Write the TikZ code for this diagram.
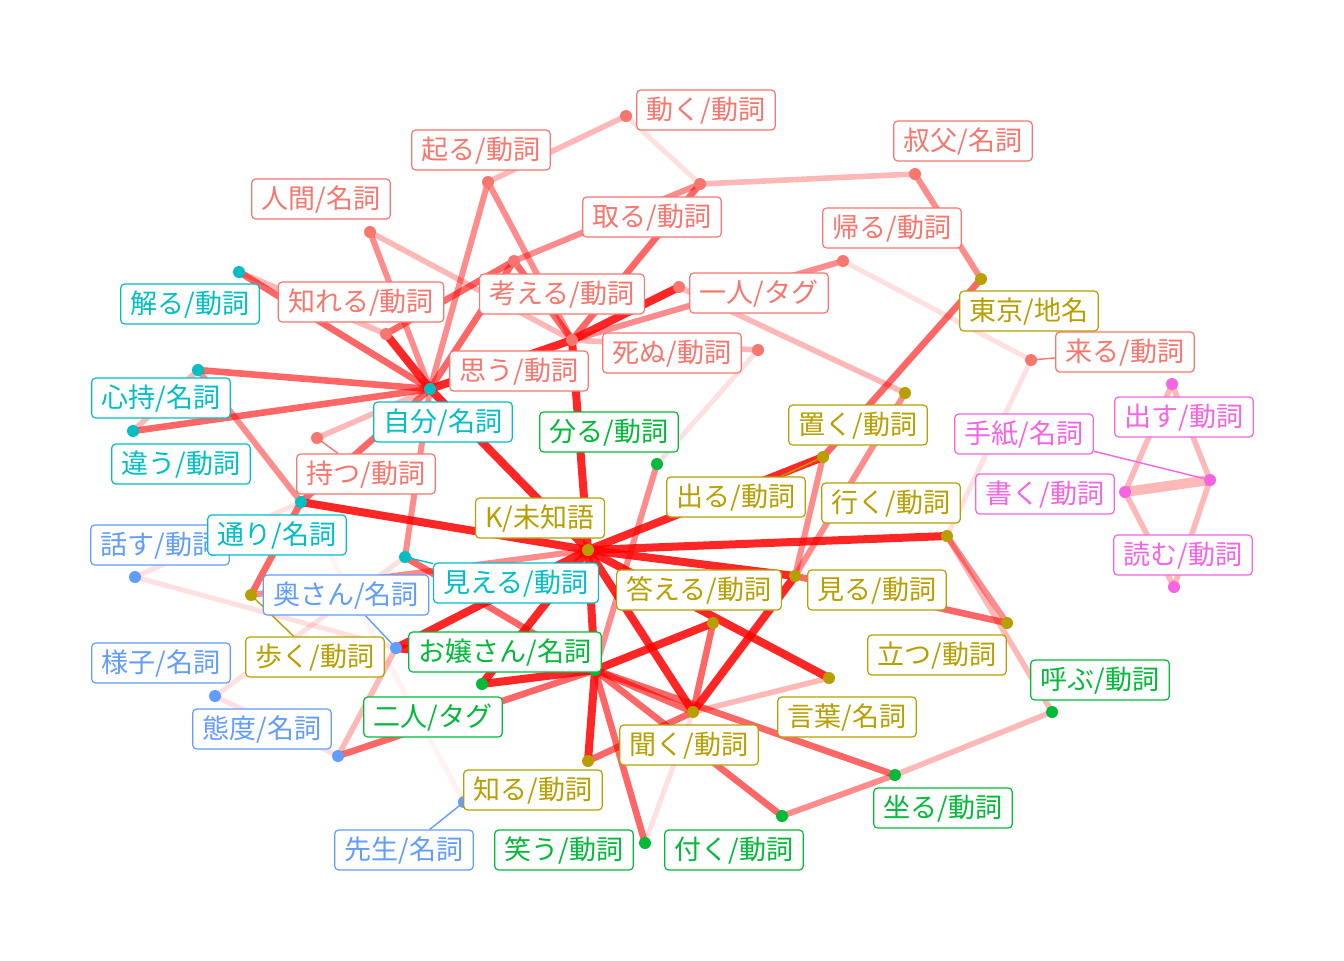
\documentclass[tikz,border=0pt]{standalone}
\usepackage{fontspec}
\newfontfamily\jpfont{Noto Sans CJK JP}
\usepackage{xcolor}
\definecolor{grpSalmon}{HTML}{F8766D}
\definecolor{grpOlive}{HTML}{B79F00}
\definecolor{grpGreen}{HTML}{00BA38}
\definecolor{grpCyan}{HTML}{00BFC4}
\definecolor{grpBlue}{HTML}{619CFF}
\definecolor{grpPink}{HTML}{F564E3}
\pgfdeclarelayer{edgelayer}
\pgfdeclarelayer{dotlayer}
\pgfsetlayers{edgelayer,dotlayer,main}

\begin{document}
\begin{tikzpicture}[
        x=0.5pt, y=-0.5pt,
        lab/.style={draw=#1, text=#1, fill=white, rounded corners=2pt,
                    line width=0.6pt, font=\jpfont\fontsize{13.5}{13.5}\selectfont,
                    inner xsep=5pt, inner ysep=0pt, minimum height=20pt,
                    text height=11.6pt, text depth=1.9pt},
        seg/.style={draw=#1, line width=0.7pt},
        e1/.style={draw=red, draw opacity=.12, line width=2.5pt},
        e2/.style={draw=red, draw opacity=.28, line width=2.8pt},
        e3/.style={draw=red, draw opacity=.45, line width=3pt},
        e4/.style={draw=red, draw opacity=.6, line width=3.3pt},
        e5/.style={draw=red, draw opacity=.85, line width=4pt},
    ]
        \useasboundingbox (0,0) rectangle (1344,960);

        % ===== 点の位置 =====
        \coordinate (ugoku) at (626,116);
        \coordinate (okoru) at (488,182);
        \coordinate (ningen) at (370,232);
        \coordinate (toru) at (700,184);
        \coordinate (oji) at (915,174);
        \coordinate (kaeru) at (843,261);
        \coordinate (shireru) at (386,334);
        \coordinate (kangaeru) at (514,261);
        \coordinate (omou) at (572,340);
        \coordinate (hitori) at (679,287);
        \coordinate (shinu) at (758,350);
        \coordinate (motsu) at (317,438);
        \coordinate (kuru) at (1031,360);
        \coordinate (wakaru) at (239,272);
        \coordinate (jibun) at (430,389);
        \coordinate (kokoro) at (198,370);
        \coordinate (chigau) at (133,431);
        \coordinate (toori) at (301,502);
        \coordinate (mieru) at (405,557);
        \coordinate (hanasu) at (135,577);
        \coordinate (okusan) at (396,648);
        \coordinate (yousu) at (215,696);
        \coordinate (taido) at (338,756);
        \coordinate (sensei) at (464,802);
        \coordinate (michi) at (588,550);
        \coordinate (oku) at (905,393);
        \coordinate (deru) at (823,457);
        \coordinate (iku) at (947,536);
        \coordinate (miru) at (795,576);
        \coordinate (kotaeru) at (713,623);
        \coordinate (tatsu) at (1007,623);
        \coordinate (kotoba) at (829,678);
        \coordinate (kiku) at (693,712);
        \coordinate (shiru) at (588,761);
        \coordinate (aruku) at (251,595);
        \coordinate (tokyo) at (981,279);
        \coordinate (bunkaru) at (657,464);
        \coordinate (ojou) at (595,670);
        \coordinate (futari) at (482,684);
        \coordinate (yobu) at (1052,712);
        \coordinate (suwaru) at (895,775);
        \coordinate (warau) at (645,843);
        \coordinate (tsuku) at (782,816);
        \coordinate (dasu) at (1172,384);
        \coordinate (kaku) at (1125,492);
        \coordinate (tegami) at (1210,480);
        \coordinate (yomu) at (1174,587);

        % ===== ラベル =====
        \node[lab=grpSalmon] (ugokuL) at (706,110) {動く/動詞};
        \node[lab=grpSalmon] (okoruL) at (481,150) {起る/動詞};
        \node[lab=grpSalmon] (ningenL) at (321,199) {人間/名詞};
        \node[lab=grpSalmon] (toruL) at (652,217) {取る/動詞};
        \node[lab=grpSalmon] (ojiL) at (963,141) {叔父/名詞};
        \node[lab=grpSalmon] (kaeruL) at (892,228) {帰る/動詞};
        \node[lab=grpSalmon] (shireruL) at (361,302) {知れる/動詞};
        \node[lab=grpSalmon] (kangaeruL) at (562,294) {考える/動詞};
        \node[lab=grpSalmon] (omouL) at (519,371) {思う/動詞};
        \node[lab=grpSalmon] (hitoriL) at (759,293) {一人/タグ};
        \node[lab=grpSalmon] (shinuL) at (672,353) {死ぬ/動詞};
        \node[lab=grpSalmon] (motsuL) at (366,474) {持つ/動詞};
        \node[lab=grpSalmon] (kuruL) at (1125,352) {来る/動詞};
        \node[lab=grpCyan] (wakaruL) at (190,304) {解る/動詞};
        \node[lab=grpCyan] (jibunL) at (443,422) {自分/名詞};
        \node[lab=grpCyan] (kokoroL) at (161,398) {心持/名詞};
        \node[lab=grpCyan] (chigauL) at (181,464) {違う/動詞};
        \node[lab=grpBlue] (hanasuL) at (160,545) {話す/動詞};
        \node[lab=grpCyan] (tooriL) at (277,535) {通り/名詞};
        \node[lab=grpCyan] (mieruL) at (516,583) {見える/動詞};
        \node[lab=grpBlue] (okusanL) at (346,595) {奥さん/名詞};
        \node[lab=grpBlue] (yousuL) at (161,663) {様子/名詞};
        \node[lab=grpBlue] (taidoL) at (262,729) {態度/名詞};
        \node[lab=grpBlue] (senseiL) at (404,850) {先生/名詞};
        \node[lab=grpOlive] (michiL) at (540,518) {K/未知語};
        \node[lab=grpOlive] (okuL) at (858,425) {置く/動詞};
        \node[lab=grpOlive] (deruL) at (736,497) {出る/動詞};
        \node[lab=grpOlive] (ikuL) at (891,503) {行く/動詞};
        \node[lab=grpOlive] (miruL) at (877,590) {見る/動詞};
        \node[lab=grpOlive] (kotaeruL) at (699,590) {答える/動詞};
        \node[lab=grpOlive] (tatsuL) at (937,655) {立つ/動詞};
        \node[lab=grpOlive] (kotobaL) at (847,717) {言葉/名詞};
        \node[lab=grpOlive] (kikuL) at (689,745) {聞く/動詞};
        \node[lab=grpOlive] (shiruL) at (533,790) {知る/動詞};
        \node[lab=grpOlive] (arukuL) at (315,657) {歩く/動詞};
        \node[lab=grpOlive] (tokyoL) at (1029,311) {東京/地名};
        \node[lab=grpGreen] (bunkaruL) at (609,432) {分る/動詞};
        \node[lab=grpGreen] (ojouL) at (505,652) {お嬢さん/名詞};
        \node[lab=grpGreen] (futariL) at (433,717) {二人/タグ};
        \node[lab=grpGreen] (yobuL) at (1100,680) {呼ぶ/動詞};
        \node[lab=grpGreen] (suwaruL) at (943,808) {坐る/動詞};
        \node[lab=grpGreen] (warauL) at (564,850) {笑う/動詞};
        \node[lab=grpGreen] (tsukuL) at (734,850) {付く/動詞};
        \node[lab=grpPink] (dasuL) at (1184,417) {出す/動詞};
        \node[lab=grpPink] (kakuL) at (1045,494) {書く/動詞};
        \node[lab=grpPink] (tegamiL) at (1024,434) {手紙/名詞};
        \node[lab=grpPink] (yomuL) at (1183,555) {読む/動詞};

        % ===== 共起の線 =====
        \begin{pgfonlayer}{edgelayer}
        \fill[white] (0,0) rectangle (1344,960);
        \draw[e3] (jibun) -- (okoru);
        \draw[e3] (jibun) -- (ningen);
        \draw[e5] (jibun) -- (shireru);
        \draw[e4] (jibun) -- (wakaru);
        \draw[e4] (jibun) -- (kokoro);
        \draw[e4] (jibun) -- (chigau);
        \draw[e4] (jibun) -- (toori);
        \draw[e5] (jibun) -- (michi);
        \draw[e3] (jibun) -- (mieru);
        \draw[e2] (jibun) -- (motsu);
        \draw[e4] (jibun) -- (kangaeru);
        \draw[e5] (jibun) -- (omou);
        \draw[e3] (kokoro) -- (toori);
        \draw[e2] (chigau) -- (kokoro);
        \draw[e2] (wakaru) -- (shireru);
        \draw[e4] (shireru) -- (kangaeru);
        \draw[e3] (kangaeru) -- (toru);
        \draw[e4] (kangaeru) -- (omou);
        \draw[e2] (ningen) -- (omou);
        \draw[e2] (okoru) -- (ugoku);
        \draw[e3] (okoru) -- (omou);
        \draw[e1] (ugoku) -- (toru);
        \draw[e2] (toru) -- (oji);
        \draw[e4] (toru) -- (omou);
        \draw[e5] (omou) -- (hitori);
        \draw[e3] (omou) -- (kaeru);
        \draw[e2] (omou) -- (shinu);
        \draw[e5] (omou) -- (michi);
        \draw[e1] (kaeru) -- (kuru);
        \draw[e3] (oji) -- (tokyo);
        \draw[e4] (tokyo) -- (deru);
        \draw[e1] (kuru) -- (iku);
        \draw[e1] (shinu) -- (bunkaru);
        \draw[e2] (hitori) -- (oku);
        % K/未知語
        \draw[e5] (michi) -- (toori);
        \draw[e5] (michi) -- (deru);
        \draw[e5] (michi) -- (iku);
        \draw[e5] (michi) -- (miru);
        \draw[e5] (michi) -- (kotoba);
        \draw[e5] (michi) -- (kiku);
        \draw[e5] (michi) -- (ojou);
        \draw[e5] (michi) -- (okusan);
        \draw[e5] (michi) -- (futari);
        \draw[e3] (michi) -- (aruku);
        \draw[e3] (deru) -- (miru);
        \draw[e3] (oku) -- (miru);
        \draw[e5] (kiku) -- (miru);
        \draw[e4] (miru) -- (tatsu);
        \draw[e3] (iku) -- (tatsu);
        \draw[e2] (iku) -- (yobu);
        \draw[e2] (yobu) -- (suwaru);
        \draw[e3] (suwaru) -- (tsuku);
        % お嬢さん
        \draw[e4] (ojou) -- (suwaru);
        \draw[e4] (ojou) -- (tsuku);
        \draw[e4] (ojou) -- (warau);
        \draw[e4] (ojou) -- (kiku);
        \draw[e5] (ojou) -- (shiru);
        \draw[e5] (ojou) -- (kotaeru);
        \draw[e5] (ojou) -- (futari);
        \draw[e5] (ojou) -- (okusan);
        \draw[e4] (ojou) -- (taido);
        \draw[e4] (ojou) -- (mieru);
        \draw[e3] (ojou) -- (bunkaru);
        \draw[e4] (kotaeru) -- (kiku);
        \draw[e2] (kiku) -- (kotoba);
        \draw[e4] (kiku) -- (shiru);
        \draw[e1] (kiku) -- (warau);
        \draw[e2] (okusan) -- (taido);
        \draw[e1] (hanasu) -- (okusan);
        \draw[e1] (hanasu) -- (toori);
        \draw[e4] (toori) -- (aruku);
        \draw[draw=red, draw opacity=.05, line width=2.5pt] (toori) -- (sensei);
        \draw[e1] (yousu) -- (mieru);
        \draw[e1] (yousu) -- (taido);
        % 手紙
        \draw[e2] (dasu) -- (kaku);
        \draw[e2] (dasu) -- (tegami);
        \draw[e2, line width=5pt] (kaku) -- (tegami);
        \draw[e2] (kaku) -- (yomu);
        \draw[e2] (tegami) -- (yomu);
        \end{pgfonlayer}

        % ===== 点とラベルの引き出し線 =====
        \begin{pgfonlayer}{dotlayer}
        \draw[seg=grpPink] (tegami) -- (tegamiL);
        \draw[seg=grpBlue] (okusan) -- (okusanL);
        \draw[seg=grpBlue] (sensei) -- (senseiL);
        \draw[seg=grpCyan] (mieru) -- (mieruL);
        \draw[seg=grpOlive] (aruku) -- (arukuL);
        \draw[seg=grpOlive] (deru) -- (deruL);
        \draw[seg=grpSalmon] (kuru) -- (kuruL);
        \draw[seg=grpSalmon] (motsu) -- (motsuL);
        \fill[grpSalmon] (ugoku) circle (3pt);
        \fill[grpSalmon] (okoru) circle (3pt);
        \fill[grpSalmon] (ningen) circle (3pt);
        \fill[grpSalmon] (toru) circle (3pt);
        \fill[grpSalmon] (oji) circle (3pt);
        \fill[grpSalmon] (kaeru) circle (3pt);
        \fill[grpSalmon] (shireru) circle (3pt);
        \fill[grpSalmon] (kangaeru) circle (3pt);
        \fill[grpSalmon] (omou) circle (3pt);
        \fill[grpSalmon] (hitori) circle (3pt);
        \fill[grpSalmon] (shinu) circle (3pt);
        \fill[grpSalmon] (motsu) circle (3pt);
        \fill[grpSalmon] (kuru) circle (3pt);
        \fill[grpCyan] (wakaru) circle (3pt);
        \fill[grpCyan] (jibun) circle (3pt);
        \fill[grpCyan] (kokoro) circle (3pt);
        \fill[grpCyan] (chigau) circle (3pt);
        \fill[grpCyan] (toori) circle (3pt);
        \fill[grpCyan] (mieru) circle (3pt);
        \fill[grpBlue] (hanasu) circle (3pt);
        \fill[grpBlue] (okusan) circle (3pt);
        \fill[grpBlue] (yousu) circle (3pt);
        \fill[grpBlue] (taido) circle (3pt);
        \fill[grpBlue] (sensei) circle (3pt);
        \fill[grpOlive] (michi) circle (3pt);
        \fill[grpOlive] (oku) circle (3pt);
        \fill[grpOlive] (deru) circle (3pt);
        \fill[grpOlive] (iku) circle (3pt);
        \fill[grpOlive] (miru) circle (3pt);
        \fill[grpOlive] (kotaeru) circle (3pt);
        \fill[grpOlive] (tatsu) circle (3pt);
        \fill[grpOlive] (kotoba) circle (3pt);
        \fill[grpOlive] (kiku) circle (3pt);
        \fill[grpOlive] (shiru) circle (3pt);
        \fill[grpOlive] (aruku) circle (3pt);
        \fill[grpOlive] (tokyo) circle (3pt);
        \fill[grpGreen] (bunkaru) circle (3pt);
        \fill[grpGreen] (ojou) circle (3pt);
        \fill[grpGreen] (futari) circle (3pt);
        \fill[grpGreen] (yobu) circle (3pt);
        \fill[grpGreen] (suwaru) circle (3pt);
        \fill[grpGreen] (warau) circle (3pt);
        \fill[grpGreen] (tsuku) circle (3pt);
        \fill[grpPink] (dasu) circle (3pt);
        \fill[grpPink] (kaku) circle (3pt);
        \fill[grpPink] (tegami) circle (3pt);
        \fill[grpPink] (yomu) circle (3pt);
        \end{pgfonlayer}

    \end{tikzpicture}
\end{document}
